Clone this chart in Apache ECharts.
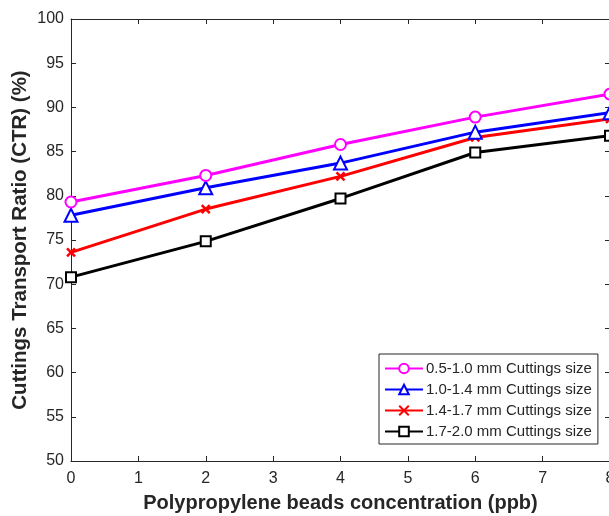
<!DOCTYPE html>
<html><head><meta charset="utf-8">
<script src="https://cdn.jsdelivr.net/npm/echarts@6/dist/echarts.min.js"></script>
<style>html,body{margin:0;padding:0;background:#fff;overflow:hidden}#c{width:609px;height:516px}</style>
</head><body><div id="c"></div>
<script>
const xValues = [0, 2, 4, 6, 8];
const seriesNames = ['0.5-1.0 mm Cuttings size', '1.0-1.4 mm Cuttings size', '1.4-1.7 mm Cuttings size', '1.7-2.0 mm Cuttings size'];
const s05_10 = [79.3, 82.3, 85.8, 88.9, 91.5];
const s10_14 = [77.8, 80.9, 83.7, 87.2, 89.4];
const s14_17 = [73.6, 78.5, 82.2, 86.6, 88.7];
const s17_20 = [70.8, 74.85, 79.7, 84.9, 86.8];
const xTicks = [0,1,2,3,4,5,6,7,8];
const yTicks = [50,55,60,65,70,75,80,85,90,95,100];

const colors = ['#ff00ff', '#0000ff', '#ff0000', '#000000'];
const symbols = ['emptyCircle', 'emptyTriangle', 'path://M0,0L10,10M10,0L0,10', 'emptyRect'];
const sizes = [11, 13, 8, 10];
const allData = [s05_10, s10_14, s14_17, s17_20];

const chart = echarts.init(document.getElementById('c'));
const txt = '#262626';
const axisCommon = {
  axisLine: {show: true, onZero: false, lineStyle: {color: txt, width: 1}},
  axisTick: {show: true, inside: true, length: 5, lineStyle: {color: txt}},
  splitLine: {show: false}
};
chart.setOption({
  animation: false,
  grid: {left: 71, top: 19, width: 539, height: 442, containLabel: false, outerBoundsMode: 'none'},
  xAxis: [
    Object.assign({type: 'value', min: 0, max: 8, interval: 1, position: 'bottom',
      name: 'Polypropylene beads concentration (ppb)', nameLocation: 'middle', nameGap: 32,
      nameTextStyle: {fontFamily: 'Liberation Sans', fontWeight: 'bold', fontSize: 20, color: txt},
      axisLabel: {fontFamily: 'Liberation Sans', fontSize: 16, color: txt, margin: 10,
        formatter: v => xTicks.includes(v) ? String(v) : ''}}, axisCommon),
    Object.assign({type: 'value', min: 0, max: 8, interval: 1, position: 'top',
      axisLabel: {show: false}}, axisCommon)
  ],
  yAxis: [
    Object.assign({type: 'value', min: 50, max: 100, interval: 5, position: 'left',
      name: 'Cuttings Transport Ratio (CTR) (%)', nameLocation: 'middle', nameGap: 40,
      nameMoveOverlap: false,
      nameTextStyle: {fontFamily: 'Liberation Sans', fontWeight: 'bold', fontSize: 20.5, color: txt},
      axisLabel: {fontFamily: 'Liberation Sans', fontSize: 16, color: txt, margin: 7,
        formatter: v => yTicks.includes(v) ? String(v) : ''}}, axisCommon),
    Object.assign({type: 'value', min: 50, max: 100, interval: 5, position: 'right',
      axisLabel: {show: false}}, axisCommon)
  ],
  legend: {
    orient: 'vertical', left: 379, top: 354, width: 219,
    backgroundColor: '#fff', borderColor: txt, borderWidth: 1,
    padding: [7, 6, 5, 5], itemGap: 6, itemWidth: 38, itemHeight: 12,
    textStyle: {fontFamily: 'Liberation Sans', fontSize: 15, color: txt, padding: [0, 0, 0, -2]},
    data: seriesNames
  },
  series: seriesNames.map((n, i) => ({
    name: n, type: 'line',
    data: xValues.map((x, j) => [x, allData[i][j]]),
    symbol: symbols[i], symbolSize: sizes[i],
    lineStyle: {color: colors[i], width: 3},
    itemStyle: {color: colors[i], borderColor: colors[i], borderWidth: i === 3 ? 3 : 2.5},
    z: 10 - i
  }))
});
</script></body></html>
